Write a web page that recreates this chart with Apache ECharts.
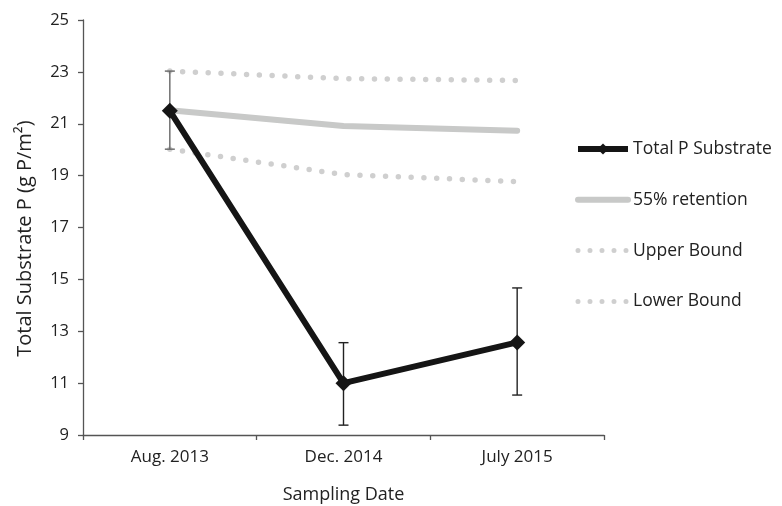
<!DOCTYPE html>
<html>
<head>
<meta charset="utf-8">
<script src="https://cdn.jsdelivr.net/npm/echarts@6/dist/echarts.min.js"></script>
<style>
  html, body { margin: 0; padding: 0; background: #fff; }
  #chart { width: 782px; height: 506px; }
</style>
</head>
<body>
<div id="chart"></div>
<script>
// Sampling dates and measured substrate phosphorus (g P/m²)
const categories = ['Aug. 2013', 'Dec. 2014', 'July 2015'];
const totalP = [21.5, 11.0, 12.57];
const totalPLow = [20.02, 9.38, 10.54];
const totalPHigh = [23.03, 12.56, 14.67];
const retention55 = [21.52, 20.91, 20.73];
const upperBound = [23.03, 22.74, 22.67];
const lowerBound = [20.02, 19.04, 18.77];
const yTicks = [9, 11, 13, 15, 17, 19, 21, 23, 25];

const FONT = 'Open Sans';
const chart = echarts.init(document.getElementById('chart'), null, { renderer: 'canvas' });

const dotted = { type: [0, 12.8], cap: 'round', width: 5.5, color: '#cfcfcf' };
const solidGray = { color: '#c8c9c8', width: 6, cap: 'round' };
const blackLine = { color: '#151515', width: 6 };

const errorData = categories.map((c, i) => [i, totalPLow[i], totalPHigh[i]]);

chart.setOption({
  animation: false,
  backgroundColor: '#fff',
  textStyle: { fontFamily: FONT },
  grid: { left: 83, right: 178, top: 20, bottom: 71, containLabel: false, outerBoundsMode: 'none' },
  xAxis: {
    type: 'category',
    data: categories,
    boundaryGap: true,
    name: 'Sampling Date',
    nameLocation: 'middle',
    nameGap: 51,
    nameTextStyle: { fontFamily: FONT, fontSize: 18, color: '#222' },
    axisLine: { lineStyle: { color: '#555', width: 1.3 } },
    axisTick: { show: true, length: 5, lineStyle: { color: '#555', width: 1.3 } },
    axisLabel: { fontFamily: FONT, fontSize: 17, color: '#222', margin: 14 },
    splitLine: { show: false }
  },
  yAxis: {
    type: 'value',
    min: 9,
    max: 25,
    interval: 2,
    name: 'Total Substrate P (g P/m²)',
    nameLocation: 'middle',
    nameGap: 48,
    nameTextStyle: { fontFamily: FONT, fontSize: 20, color: '#222', padding: [0, 22, 0, 0] },
    axisLine: { show: true, lineStyle: { color: '#555', width: 1.3 } },
    axisTick: { show: true, length: 5, lineStyle: { color: '#555', width: 1.3 } },
    axisLabel: {
      fontFamily: FONT, fontSize: 16.5, color: '#222', margin: 14,
      formatter: v => (yTicks.includes(v) ? String(v) : '')
    },
    splitLine: { show: false }
  },
  legend: {
    orient: 'vertical',
    left: 575,
    top: 140,
    padding: 0,
    itemWidth: 50,
    itemHeight: 14,
    itemGap: 32.8,
    textStyle: { fontFamily: FONT, fontSize: 17.5, color: '#222' },
    data: [
      { name: 'Total P Substrate', lineStyle: { width: 6, color: '#151515' } },
      { name: '55% retention', lineStyle: { width: 6, color: '#c8c9c8', cap: 'round' }, itemStyle: { opacity: 0 } },
      { name: 'Upper Bound', lineStyle: { width: 5, type: [0, 12], cap: 'round', color: '#cfcfcf' }, itemStyle: { opacity: 0 } },
      { name: 'Lower Bound', lineStyle: { width: 5, type: [0, 12], cap: 'round', color: '#cfcfcf' }, itemStyle: { opacity: 0 } }
    ]
  },
  series: [
    {
      name: 'Upper Bound', type: 'line', data: upperBound,
      symbol: 'none', lineStyle: dotted, itemStyle: { color: '#cfcfcf' }, z: 1
    },
    {
      name: 'Lower Bound', type: 'line', data: lowerBound,
      symbol: 'none', lineStyle: dotted, itemStyle: { color: '#cfcfcf' }, z: 1
    },
    {
      name: '55% retention', type: 'line', data: retention55,
      symbol: 'none', lineStyle: solidGray,
      itemStyle: { color: '#c8c9c8' }, z: 2
    },
    {
      name: 'error', type: 'custom', data: errorData, z: 3,
      renderItem: (params, api) => {
        const x = api.value(0);
        const lo = api.coord([x, api.value(1)]);
        const hi = api.coord([x, api.value(2)]);
        const half = 5;
        const color = params.dataIndex === 0 ? '#666' : '#222';
        const style = { stroke: color, lineWidth: 1.4 };
        return {
          type: 'group',
          children: [
            { type: 'line', shape: { x1: lo[0], y1: lo[1], x2: hi[0], y2: hi[1] }, style },
            { type: 'line', shape: { x1: lo[0] - half, y1: lo[1], x2: lo[0] + half, y2: lo[1] }, style },
            { type: 'line', shape: { x1: hi[0] - half, y1: hi[1], x2: hi[0] + half, y2: hi[1] }, style }
          ]
        };
      }
    },
    {
      name: 'Total P Substrate', type: 'line', data: totalP,
      symbol: 'diamond', symbolSize: 16,
      lineStyle: blackLine,
      itemStyle: { color: '#151515' }, z: 4
    }
  ]
});
</script>
</body>
</html>
